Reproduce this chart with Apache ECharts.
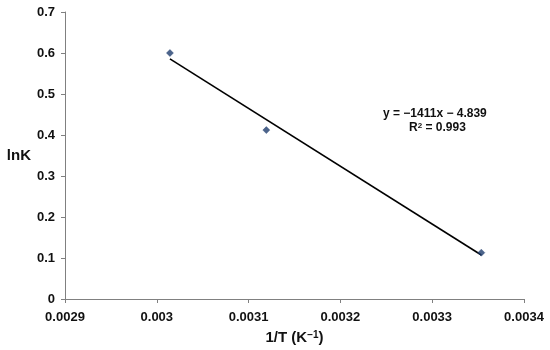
<!DOCTYPE html>
<html><head><meta charset="utf-8">
<script src="https://cdn.jsdelivr.net/npm/echarts@6/dist/echarts.min.js"></script>
<style>html,body{margin:0;padding:0;background:#fff}#c{width:550px;height:350px}</style>
</head><body><div id="c"></div>
<script>
var invT = [0.0030143, 0.0031193, 0.0033535];
var lnK = [0.600, 0.412, 0.113];
var slope = -1411, intercept = 4.839;
var eqText = 'y = \u22121411x \u2212 4.839';
var r2Text = 'R{sup|2} = 0.993';
var xTicks = [0.0029, 0.003, 0.0031, 0.0032, 0.0033, 0.0034];

var pts = invT.map(function(x, i){ return [x, lnK[i]]; });
var xa = invT[0], xb = invT[invT.length-1];
var fit = [[xa, slope*xa+intercept], [xb, slope*xb+intercept]];
var font = 'Liberation Sans, Arial, sans-serif';
var chart = echarts.init(document.getElementById('c'));
chart.setOption({
  animation: false,
  grid: {left: 65, right: 26, top: 12, bottom: 51, containLabel: false, outerBoundsMode: 'none'},
  xAxis: {
    type: 'value', min: 0.0029, max: 0.0034, interval: 0.0001,
    name: '1/T (K{sup|\u22121})', nameLocation: 'middle', nameGap: 31,
    nameTextStyle: {fontFamily: font, fontWeight: 'bold', fontSize: 15, color: '#111',
      rich: {sup: {fontFamily: font, fontWeight: 'bold', fontSize: 10, color: '#111', verticalAlign: 'top', padding: [0,0,6,0]}}},
    axisLine: {lineStyle: {color: '#808080', width: 1}},
    axisTick: {show: true, length: 4, lineStyle: {color: '#808080'}},
    axisLabel: {fontFamily: font, fontWeight: 'bold', fontSize: 13, color: '#111', margin: 12,
      formatter: function(v){ return String(parseFloat(v.toFixed(4))); }},
    splitLine: {show: false}
  },
  yAxis: {
    type: 'value', min: 0, max: 0.7, interval: 0.1,
    name: 'lnK', nameLocation: 'middle', nameGap: 45, nameRotate: 0,
    nameTextStyle: {fontFamily: font, fontWeight: 'bold', fontSize: 15, color: '#111', align: 'center', verticalAlign: 'middle'},
    axisLine: {show: true, lineStyle: {color: '#808080', width: 1}},
    axisTick: {show: true, length: 4, lineStyle: {color: '#808080'}},
    axisLabel: {fontFamily: font, fontWeight: 'bold', fontSize: 13, color: '#111', margin: 10,
      formatter: function(v){ return String(parseFloat(v.toFixed(1))); }},
    splitLine: {show: false}
  },
  series: [
    {type: 'line', data: fit, symbol: 'none', lineStyle: {color: '#000', width: 1.6}, z: 2},
    {type: 'scatter', data: pts, symbol: 'diamond', symbolSize: 7,
     itemStyle: {color: '#1f3d6e', borderColor: '#1f3d6e', borderWidth: 0.5}, z: 3}
  ],
  graphic: [
    {type: 'text', left: 383, top: 108, style: {text: eqText, font: 'bold 12px Liberation Sans, Arial, sans-serif', fill: '#111'}},
    {type: 'text', left: 409, top: 122, style: {text: r2Text, font: 'bold 12px Liberation Sans, Arial, sans-serif', fill: '#111',
      rich: {sup: {font: 'bold 8px Liberation Sans, Arial, sans-serif', fill: '#111', verticalAlign: 'top'}}}}
  ]
});
</script></body></html>
